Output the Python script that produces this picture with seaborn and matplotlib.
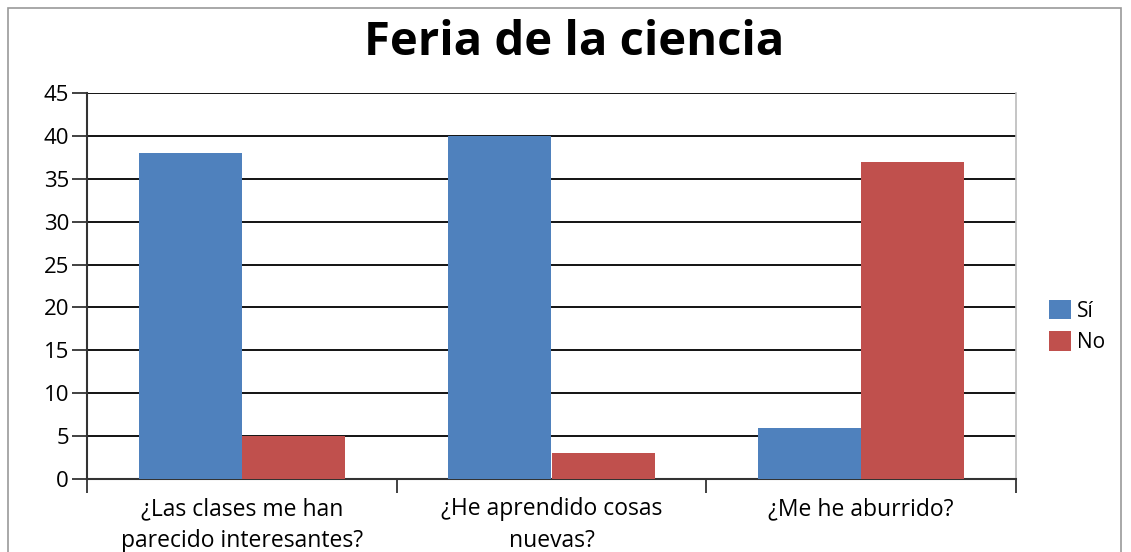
import pandas as pd
import seaborn as sns
import matplotlib.pyplot as plt
from matplotlib.patches import Rectangle

# datos
preguntas = ['¿Las clases me han\nparecido interesantes?', '¿He aprendido cosas\nnuevas?', '¿Me he aburrido?']
si = [38, 40, 6]
no = [5, 3, 37]
series = ['Sí', 'No']
colores = ['#4F81BD', '#C0504D']

df = pd.DataFrame({
    'pregunta': preguntas * 2,
    'respuesta': [series[0]] * 3 + [series[1]] * 3,
    'valor': si + no,
})

sns.set_style('white')
plt.rcParams['font.family'] = ['Open Sans', 'DejaVu Sans']
plt.rcParams['text.color'] = 'black'
plt.rcParams['xtick.color'] = 'black'
plt.rcParams['ytick.color'] = 'black'

fig = plt.figure(figsize=(11.31, 5.52), dpi=100)
ax = fig.add_axes([87 / 1131, 73 / 552, 929 / 1131, 386 / 552])

sns.barplot(data=df, x='pregunta', y='valor', hue='respuesta', palette=colores,
            width=0.667, saturation=1, ax=ax, zorder=3, edgecolor='none')

ax.set_ylim(0, 45)
ax.set_xlim(-0.5, 2.5)
ax.set_yticks(range(0, 46, 5))
ax.yaxis.grid(True, color='black', linewidth=1.3, zorder=0)
ax.set_axisbelow(True)
ax.set_xlabel('')
ax.set_ylabel('')

# ticks
ax.tick_params(axis='y', direction='out', length=11, width=1.3, color='#333333',
               labelsize=16, pad=2, left=True)
ax.tick_params(axis='x', which='major', length=0, labelsize=16.5, pad=13)
for t in ax.get_xticklabels():
    t.set_linespacing(1.45)
ax.set_xticks([-0.5, 0.5, 1.5, 2.5], minor=True)
ax.tick_params(axis='x', which='minor', direction='out', length=10, width=1.3,
               color='#333333', bottom=True)

for lado in ['left', 'bottom']:
    ax.spines[lado].set_color('#333333')
    ax.spines[lado].set_linewidth(1.5)
ax.spines['top'].set_visible(False)
ax.spines['right'].set_color('#BBBBBB')
ax.spines['right'].set_linewidth(1.2)

ax.legend(loc='center left', bbox_to_anchor=(1.015, 0.395), frameon=False,
          fontsize=15, handlelength=1.05, handleheight=1.05, handletextpad=0.3,
          labelspacing=0.45)

fig.suptitle('Feria de la ciencia', fontsize=34, fontweight='bold', x=0.5075, y=0.965,
             color='black')

# borde del gráfico
fig.patches.append(Rectangle((8 / 1131, -0.05), 1113 / 1131, 1.036, transform=fig.transFigure,
                             fill=False, edgecolor='#999999', linewidth=1.2))

fig.savefig('out.png', dpi=100)
